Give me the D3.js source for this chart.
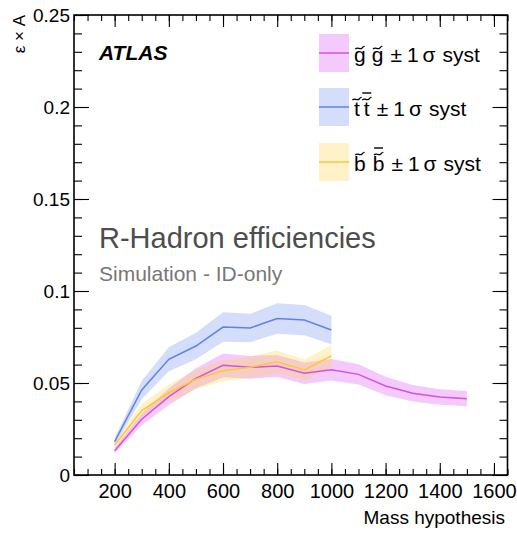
<!DOCTYPE html>
<html>
<head>
<meta charset="utf-8">
<script src="https://cdn.jsdelivr.net/npm/d3@7"></script>
<style>
  body { margin: 0; background: #fff; }
  text { font-family: "Liberation Sans", Arial, Helvetica, sans-serif; }
</style>
</head>
<body>
<svg id="chart"></svg>
<script>
const gluinoMass = [200, 300, 400, 500, 600, 700, 800, 900, 1000, 1100, 1200, 1300, 1400, 1500];
const gluinoEff = [0.0132, 0.0303, 0.0426, 0.0525, 0.0596, 0.0585, 0.0592, 0.0553, 0.0572, 0.0547, 0.0484, 0.0444, 0.0424, 0.0415];
const gluinoErr = [0.0015, 0.0033, 0.0045, 0.0055, 0.0065, 0.0062, 0.006, 0.0058, 0.0058, 0.0055, 0.005, 0.0045, 0.0042, 0.0041];

const stopMass = [200, 300, 400, 500, 600, 700, 800, 900, 1000];
const stopEff = [0.0181, 0.0462, 0.0629, 0.0701, 0.0804, 0.0799, 0.085, 0.0842, 0.0788];
const stopErr = [0.0019, 0.005, 0.0065, 0.0072, 0.008, 0.0078, 0.0083, 0.0082, 0.0078];

const sbottomMass = [200, 300, 400, 500, 600, 700, 800, 900, 1000];
const sbottomEff = [0.0163, 0.035, 0.0447, 0.052, 0.0567, 0.0585, 0.0616, 0.0571, 0.0647];
const sbottomErr = [0.0017, 0.0036, 0.0046, 0.0052, 0.0057, 0.0058, 0.006, 0.0057, 0.006];

const xTicks = [200, 400, 600, 800, 1000, 1200, 1400, 1600];
const yTicks = [0, 0.05, 0.1, 0.15, 0.2, 0.25];

const w = 517;
const h = 536;
const padL = 74, padR = 507.5, padT = 15, padB = 475;

const svg = d3.select("#chart").attr("width", w).attr("height", h);

const xScale = d3.scaleLinear().domain([50, 1650]).range([padL, padR]);
const yScale = d3.scaleLinear().domain([0, 0.25]).range([padB, padT]);

const series = [
  { mass: gluinoMass, eff: gluinoEff, err: gluinoErr, line: "#d64fe6", band: "rgba(214,80,242,0.3)", letter: "g", bar: false, gap: 6 },
  { mass: stopMass, eff: stopEff, err: stopErr, line: "#5f82ea", band: "rgba(112,142,238,0.3)", letter: "t", bar: true, gap: 4 },
  { mass: sbottomMass, eff: sbottomEff, err: sbottomErr, line: "#fcc737", band: "rgba(255,212,72,0.3)", letter: "b", bar: true, gap: 7 },
];

// bands first, then lines on top
series.forEach((s) => {
  const pts = s.mass.map((m, i) => ({ m: m, v: s.eff[i], e: s.err[i] }));
  svg
    .append("path")
    .datum(pts)
    .attr("fill", s.band)
    .attr("stroke", "none")
    .attr(
      "d",
      d3
        .area()
        .x((d) => xScale(d.m))
        .y0((d) => yScale(d.v - d.e))
        .y1((d) => yScale(d.v + d.e))
    );
});

series.forEach((s) => {
  const pts = s.mass.map((m, i) => ({ m: m, v: s.eff[i] }));
  svg
    .append("path")
    .datum(pts)
    .attr("fill", "none")
    .attr("stroke", s.line)
    .attr("stroke-width", 1.5)
    .attr(
      "d",
      d3
        .line()
        .x((d) => xScale(d.m))
        .y((d) => yScale(d.v))
    );
});

// axes, ROOT style: ticks on all four sides pointing inward
const xMinorVals = d3.range(50, 1651, 50);
const yMinorVals = d3.range(0, 0.2501, 0.01);

svg.append("g").attr("transform", "translate(0," + padB + ")").call(d3.axisBottom(xScale).tickValues(xMinorVals).tickSize(-6).tickFormat(""));
const gx = svg.append("g").attr("transform", "translate(0," + padB + ")").call(d3.axisBottom(xScale).tickValues(xTicks).tickSize(-12).tickPadding(9).tickFormat(d3.format("d")));
svg.append("g").attr("transform", "translate(0," + padT + ")").call(d3.axisTop(xScale).tickValues(xMinorVals).tickSize(-6).tickFormat(""));
svg.append("g").attr("transform", "translate(0," + padT + ")").call(d3.axisTop(xScale).tickValues(xTicks).tickSize(-12).tickFormat(""));
svg.append("g").attr("transform", "translate(" + padL + ",0)").call(d3.axisLeft(yScale).tickValues(yMinorVals).tickSize(-8).tickFormat(""));
const gy = svg.append("g").attr("transform", "translate(" + padL + ",0)").call(d3.axisLeft(yScale).tickValues(yTicks).tickSize(-15).tickPadding(4).tickFormat((d) => (d === 0 ? "0" : d3.format("")(d))));
svg.append("g").attr("transform", "translate(" + padR + ",0)").call(d3.axisRight(yScale).tickValues(yMinorVals).tickSize(-8).tickFormat(""));
svg.append("g").attr("transform", "translate(" + padR + ",0)").call(d3.axisRight(yScale).tickValues(yTicks).tickSize(-15).tickFormat(""));

svg.selectAll(".domain").remove();
svg.selectAll(".tick line").attr("stroke", "#000").attr("stroke-width", 1.1);
svg.selectAll(".tick text").attr("fill", "#000").attr("font-family", "Liberation Sans, Arial, sans-serif");
gx.selectAll(".tick text").attr("font-size", "20px");
gy.selectAll(".tick text").attr("font-size", "19px");

svg
  .append("rect")
  .attr("x", padL)
  .attr("y", padT)
  .attr("width", padR - padL)
  .attr("height", padB - padT)
  .attr("fill", "none")
  .attr("stroke", "#000")
  .attr("stroke-width", 1.6);

// axis titles
svg
  .append("text")
  .attr("x", 505)
  .attr("y", 524)
  .attr("text-anchor", "end")
  .attr("font-size", "19px")
  .text("Mass hypothesis");

svg
  .append("text")
  .attr("transform", "translate(25,15) rotate(-90)")
  .attr("text-anchor", "end")
  .attr("font-size", "17px")
  .text("ε × A");

// labels
svg
  .append("text")
  .attr("x", 99)
  .attr("y", 60)
  .attr("font-size", "21px")
  .attr("font-weight", "bold")
  .attr("font-style", "italic")
  .text("ATLAS");

svg
  .append("text")
  .attr("x", 99)
  .attr("y", 248)
  .attr("font-size", "29px")
  .attr("fill", "#4d4d4d")
  .text("R-Hadron efficiencies");

svg
  .append("text")
  .attr("x", 99)
  .attr("y", 281)
  .attr("font-size", "21px")
  .attr("fill", "#777")
  .text("Simulation - ID-only");

// legend
const legendTop = [34, 88, 143];
const legend = svg.append("g").attr("id", "legend");
series.forEach((s, i) => {
  const y0 = legendTop[i];
  legend.append("rect").attr("x", 319).attr("y", y0).attr("width", 30).attr("height", 38).attr("fill", s.band);
  legend.append("line").attr("x1", 319).attr("x2", 349).attr("y1", y0 + 19).attr("y2", y0 + 19).attr("stroke", s.line).attr("stroke-width", 1.5);
  const t = legend
    .append("text")
    .attr("x", 354)
    .attr("y", y0 + 28)
    .attr("font-size", "21px");
  t.append("tspan").text(s.letter);
  t.append("tspan").attr("dx", s.gap).text(s.letter);
  t.append("tspan").attr("dx", 7).text("\u00b1");
  t.append("tspan").attr("dx", 5).text("1");
  t.append("tspan").attr("dx", 4).text("\u03c3");
  t.append("tspan").attr("dx", 7).text("syst");
  const node = t.node();
  const hat = s.letter === "g" ? y0 + 14 : y0 + 11;
  [0, 1].forEach((ci) => {
    const ext = node.getExtentOfChar(ci);
    const cx = ext.x + ext.width / 2;
    const hw = 4.5;
    legend
      .append("path")
      .attr("d", `M${cx - hw},${hat + 1.2} C${cx - hw / 2},${hat - 2.2} ${cx},${hat + 2.6} ${cx + hw / 2},${hat}  S${cx + hw},${hat - 1.3} ${cx + hw},${hat - 1.3}`)
      .attr("fill", "none")
      .attr("stroke", "#000")
      .attr("stroke-width", 1.2);
    if (ci === 1 && s.bar) {
      legend
        .append("line")
        .attr("x1", cx - hw)
        .attr("x2", cx + hw)
        .attr("y1", hat - 6)
        .attr("y2", hat - 6)
        .attr("stroke", "#000")
        .attr("stroke-width", 1.4);
    }
  });
});
</script>
</body>
</html>
